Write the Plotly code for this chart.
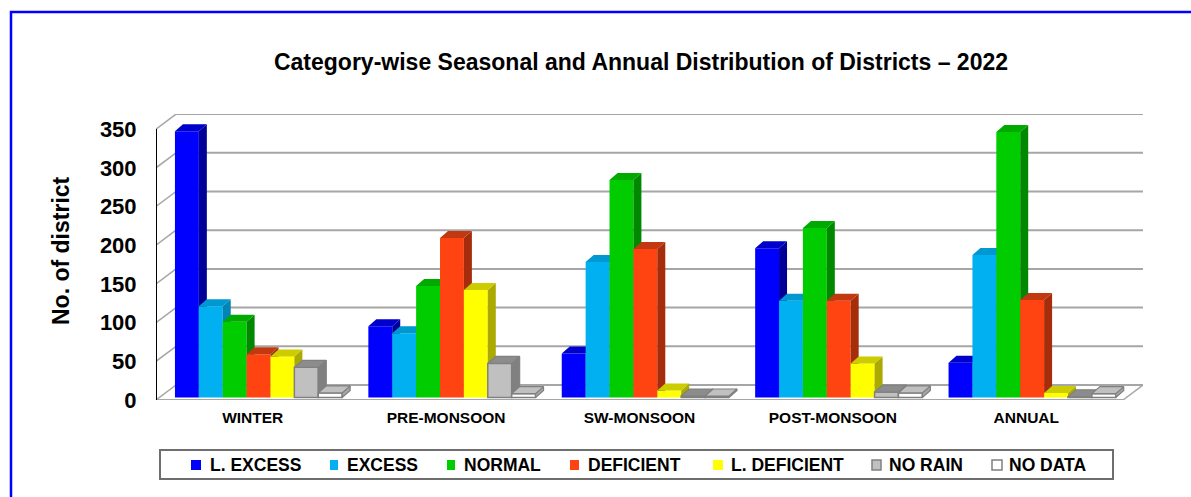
import plotly.graph_objects as go

W, H = 1191, 497
CATEGORIES = ["WINTER", "PRE-MONSOON", "SW-MONSOON", "POST-MONSOON", "ANNUAL"]
SERIES_NAMES = ["L. EXCESS", "EXCESS", "NORMAL", "DEFICIENT", "L. DEFICIENT", "NO RAIN", "NO DATA"]
L_EXCESS = [344, 92, 57, 193, 45]
EXCESS = [118, 83, 175, 125, 184]
NORMAL = [98, 144, 281, 219, 343]
DEFICIENT = [56, 206, 192, 125, 126]
L_DEFICIENT = [53, 139, 9, 44, 6]
NO_RAIN = [39, 44, 2, 7, 1]
NO_DATA = [6, 5, 2, 6, 5]
VALUES = [L_EXCESS, EXCESS, NORMAL, DEFICIENT, L_DEFICIENT, NO_RAIN, NO_DATA]
Y_TICKS = [0, 50, 100, 150, 200, 250, 300, 350]

FRONT = ["#0000ff", "#00b0f0", "#00cc00", "#ff4411", "#ffff00", "#c0c0c0", "#ffffff"]
SIDE = ["#000099", "#0084b4", "#008800", "#a62d0b", "#aaaa00", "#808080", "#a6a6a6"]
TOP = ["#0000cc", "#0098d0", "#00aa00", "#c23810", "#cccc00", "#8c8c8c", "#c0c0c0"]

# geometry of the 3D box
PLOT_L, PLOT_R, PLOT_T, PLOT_B = 156, 1143, 114, 400
PX_X = 193.4
PX_Y = 0.774
WALL_DX, WALL_DY = 20 / PX_X, 15 / PX_Y
BAR_DX, BAR_DY = 8 / PX_X, 7 / PX_Y
BASE = 3.2
BAR_W = 0.1235
BAR_START = 0.098
N_GROUP = len(CATEGORIES)
X_RANGE = [0, (PLOT_R - PLOT_L) / PX_X]
Y_RANGE = [0, (PLOT_B - PLOT_T) / PX_Y]
X_DOMAIN = [PLOT_L / W, PLOT_R / W]
Y_DOMAIN = [1 - PLOT_B / H, 1 - PLOT_T / H]
FONT = "Liberation Sans, Arial, sans-serif"
GRID = "#a6a6a6"

fig = go.Figure()

# back wall gridlines
gx, gy = [], []
for t in Y_TICKS:
    gx += [WALL_DX, N_GROUP + WALL_DX, None]
    gy += [t + WALL_DY, t + WALL_DY, None]
fig.add_trace(go.Scatter(x=gx, y=gy, mode="lines", line=dict(color=GRID, width=2),
                         hoverinfo="skip", showlegend=False, cliponaxis=False))
# side-wall diagonals and right floor edge
dx, dy = [], []
for t in Y_TICKS:
    dx += [0, WALL_DX, None]
    dy += [t, t + WALL_DY, None]
dx += [N_GROUP, N_GROUP + WALL_DX, None]
dy += [0, WALL_DY, None]
fig.add_trace(go.Scatter(x=dx, y=dy, mode="lines", line=dict(color=GRID, width=1.5),
                         hoverinfo="skip", showlegend=False, cliponaxis=False))
# front floor edge
fig.add_trace(go.Scatter(x=[0, N_GROUP], y=[0, 0], mode="lines", line=dict(color=GRID, width=2),
                         hoverinfo="skip", showlegend=False, cliponaxis=False))
# value axis line
fig.add_trace(go.Scatter(x=[0, 0], y=[0, Y_TICKS[-1]], mode="lines", line=dict(color="#000000", width=2),
                         hoverinfo="skip", showlegend=False, cliponaxis=False))

layout_axes = {}
for s, (name, vals) in enumerate(zip(SERIES_NAMES, VALUES)):
    n = s + 2
    xa, ya = f"x{n}", f"y{n}"
    layout_axes[f"xaxis{n}"] = dict(domain=X_DOMAIN, range=X_RANGE, overlaying="x", visible=False, anchor=ya)
    layout_axes[f"yaxis{n}"] = dict(domain=Y_DOMAIN, range=Y_RANGE, overlaying="y", visible=False, anchor=xa)
    outlined = s >= 5
    lefts = [g + BAR_START + s * BAR_W for g in range(N_GROUP)]
    centers = [l + BAR_W / 2 for l in lefts]
    sx, sy, tx, ty = [], [], [], []
    for l, v in zip(lefts, vals):
        r = l + BAR_W
        top = BASE + v
        sx += [r, r + BAR_DX, r + BAR_DX, r, r, None]
        sy += [BASE, BASE + BAR_DY, top + BAR_DY, top, BASE, None]
        tx += [l, l + BAR_DX, r + BAR_DX, r, l, None]
        ty += [top, top + BAR_DY, top + BAR_DY, top, top, None]
    edge = dict(color="#808080", width=1.2) if outlined else dict(width=0)
    fig.add_trace(go.Scatter(x=sx, y=sy, xaxis=xa, yaxis=ya, mode="lines", fill="toself",
                             fillcolor=SIDE[s], line=edge, hoverinfo="skip", showlegend=False,
                             cliponaxis=False))
    fig.add_trace(go.Scatter(x=tx, y=ty, xaxis=xa, yaxis=ya, mode="lines", fill="toself",
                             fillcolor=TOP[s], line=edge, hoverinfo="skip", showlegend=False,
                             cliponaxis=False))
    fig.add_trace(go.Bar(x=centers, y=vals, base=BASE, width=BAR_W, xaxis=xa, yaxis=ya, name=name,
                         marker=dict(color=FRONT[s],
                                     line=dict(color="#808080", width=1.5 if outlined else 0)),
                         showlegend=False))

# legend built to the reference's irregular spacing
LEG_SWATCH = [(191, 201), (330, 338), (447, 455), (570, 579), (713, 723), (872, 881), (992, 1002)]
LEG_TEXT_X = [208, 345, 462, 586, 729, 887, 1007]
X = lambda px: px / W
Y = lambda py: 1 - py / H
shapes = [
    dict(type="path", xref="paper", yref="paper",
         path=f"M {X(11)} {Y(H + 5)} L {X(11)} {Y(12)} L {X(W + 5)} {Y(12)}",
         line=dict(color="#0000ff", width=2.5)),
    dict(type="rect", xref="paper", yref="paper", x0=X(160), x1=X(1113), y0=Y(450), y1=Y(479),
         line=dict(color="#6e6e6e", width=2), fillcolor="#ffffff"),
]
annotations = [
    dict(text="<b>No. of district</b>", xref="paper", yref="paper", x=X(61), y=Y(251), showarrow=False,
         xanchor="center", yanchor="middle", textangle=-90,
         font=dict(family=FONT, size=23, color="#000000")),
]
for s, name in enumerate(SERIES_NAMES):
    x0, x1 = LEG_SWATCH[s]
    shapes.append(dict(type="rect", xref="paper", yref="paper", x0=X(x0), x1=X(x1), y0=Y(460), y1=Y(470),
                       fillcolor=FRONT[s],
                       line=dict(color="#808080", width=1.5) if s >= 5 else dict(width=0)))
    annotations.append(dict(text=f"<b>{name}</b>", xref="paper", yref="paper", x=X(LEG_TEXT_X[s]), y=Y(465),
                            xanchor="left", yanchor="middle", showarrow=False,
                            font=dict(family=FONT, size=17.5, color="#000000")))

fig.update_layout(
    width=W, height=H, margin=dict(l=0, r=0, t=0, b=0, autoexpand=False), autosize=False,
    paper_bgcolor="#ffffff", plot_bgcolor="rgba(0,0,0,0)", showlegend=False,
    barmode="overlay",
    title=dict(text="<b>Category-wise Seasonal and Annual Distribution of Districts – 2022</b>",
               x=641 / W, xanchor="center", y=Y(62), yanchor="middle",
               font=dict(family=FONT, size=23, color="#000000")),
    xaxis=dict(domain=X_DOMAIN, range=X_RANGE, showgrid=False, zeroline=False, showline=False,
               tickmode="array", tickvals=[g + 0.5 for g in range(N_GROUP)],
               ticktext=[f"<b>{c}</b>" for c in CATEGORIES], ticks="outside", ticklen=3,
               tickcolor="rgba(0,0,0,0)", tickfont=dict(family=FONT, size=15.5, color="#000000")),
    yaxis=dict(domain=Y_DOMAIN, range=Y_RANGE, showgrid=False, zeroline=False, showline=False,
               tickmode="array", tickvals=Y_TICKS, ticktext=[f"<b>{t}</b>" for t in Y_TICKS],
               ticks="outside", ticklen=14, tickcolor="rgba(0,0,0,0)",
               tickfont=dict(family=FONT, size=22, color="#000000")),
    shapes=shapes, annotations=annotations, **layout_axes,
)

fig.write_html("out.html", config={"displayModeBar": False},
               post_script="document.body.style.margin='0';document.body.style.overflow='hidden';")
